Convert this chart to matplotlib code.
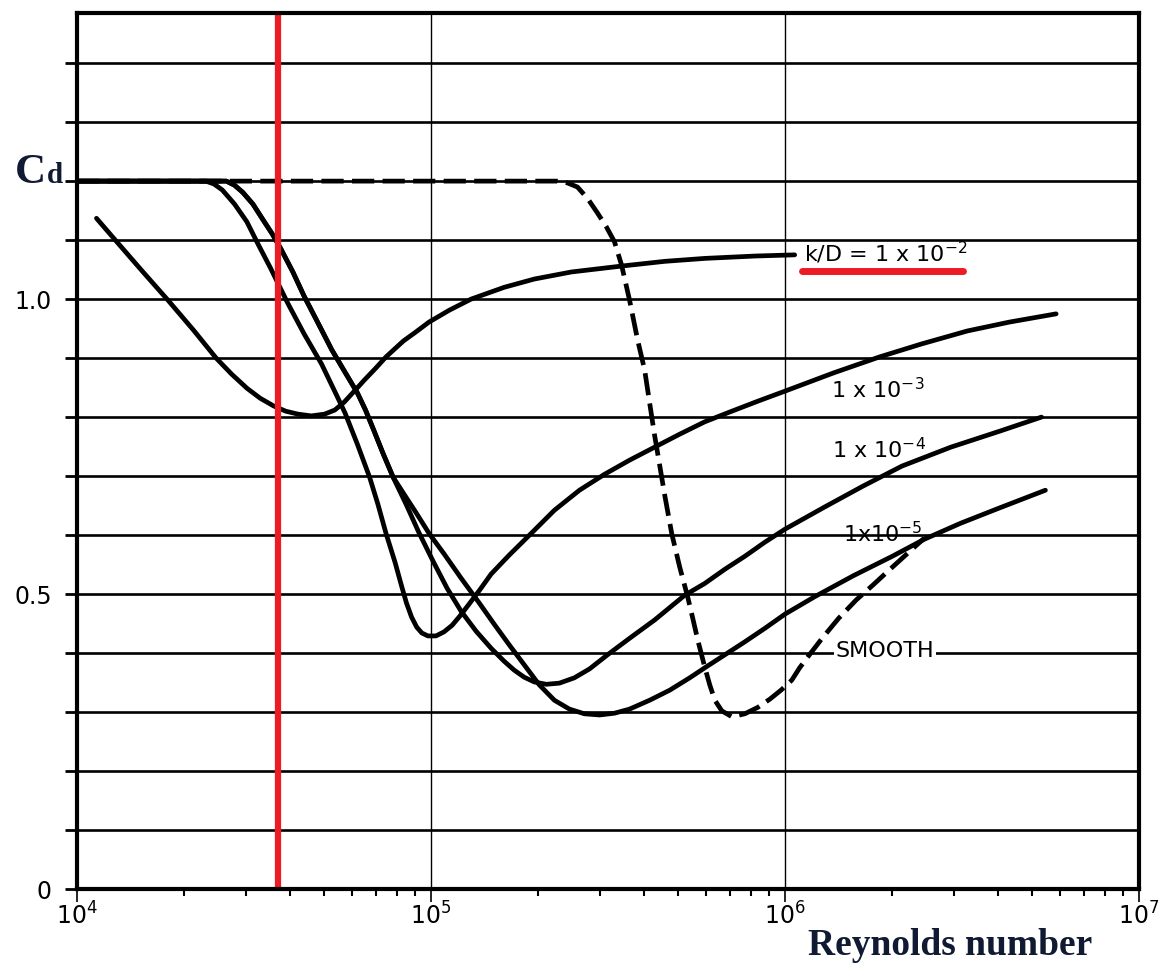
import matplotlib
matplotlib.use("Agg")
import matplotlib.pyplot as plt
from matplotlib.ticker import FixedLocator, FuncFormatter, LogLocator, NullFormatter

# ---------------- data ----------------
re_kd1e2 = [1.135e4, 1.296e4, 1.531e4, 1.808e4, 2.136e4, 2.472e4, 2.732e4, 3.019e4, 3.291e4,
            3.589e4, 3.887e4, 4.210e4, 4.589e4, 5.005e4, 5.350e4, 5.679e4, 6.030e4, 6.489e4,
            6.983e4, 7.462e4, 8.356e4, 9.05e4, 9.87e4, 1.125e5, 1.298e5, 1.610e5, 1.958e5,
            2.493e5, 3.453e5, 4.572e5, 5.935e5, 8.222e5, 1.065e6]
cd_kd1e2 = [1.137, 1.097, 1.047, 0.998, 0.947, 0.900, 0.873, 0.849, 0.832,
            0.819, 0.810, 0.805, 0.802, 0.805, 0.812, 0.825, 0.842, 0.863,
            0.883, 0.902, 0.929, 0.944, 0.961, 0.981, 1.000, 1.020, 1.034,
            1.046, 1.056, 1.064, 1.069, 1.073, 1.075]

re_kd1e3 = [1.0e4, 2.313e4, 2.439e4, 2.573e4, 2.787e4, 3.019e4, 3.248e4, 3.518e4, 3.939e4,
            4.381e4, 4.907e4, 5.422e4, 5.717e4, 6.195e4, 6.708e4, 7.074e4, 7.462e4, 7.922e4,
            8.246e4, 8.523e4, 8.812e4, 9.11e4, 9.42e4, 9.80e4, 1.033e5, 1.089e5, 1.147e5,
            1.208e5, 1.281e5, 1.377e5, 1.479e5, 1.663e5, 1.920e5, 2.231e5, 2.626e5, 3.091e5,
            3.639e5, 4.282e5, 5.04e5, 5.935e5, 7.078e5, 8.385e5, 1.0e6, 1.373e6, 1.850e6,
            2.431e6, 3.275e6, 4.30e6, 5.833e6]
cd_kd1e3 = [1.2, 1.2, 1.195, 1.185, 1.161, 1.131, 1.093, 1.053, 0.993,
            0.941, 0.890, 0.836, 0.807, 0.754, 0.698, 0.653, 0.603, 0.553,
            0.515, 0.485, 0.461, 0.444, 0.434, 0.429, 0.429, 0.436, 0.447,
            0.463, 0.483, 0.508, 0.534, 0.566, 0.603, 0.642, 0.676, 0.703,
            0.727, 0.749, 0.771, 0.792, 0.810, 0.827, 0.844, 0.875, 0.902,
            0.924, 0.946, 0.961, 0.975]

re_kd1e4 = [1.0e4, 2.642e4, 2.787e4, 2.939e4, 3.141e4, 3.357e4, 3.565e4, 3.759e4, 4.072e4,
            4.381e4, 4.810e4, 5.245e4, 5.717e4, 6.195e4, 6.531e4, 6.889e4, 7.313e4, 7.818e4,
            8.523e4, 9.23e4, 1.013e5, 1.110e5, 1.216e5, 1.341e5, 1.479e5, 1.610e5, 1.718e5,
            1.834e5, 1.958e5, 2.117e5, 2.305e5, 2.541e5, 2.803e5, 3.152e5, 3.639e5, 4.282e5,
            5.209e5, 5.935e5, 6.761e5, 7.70e5, 8.777e5, 1.0e6, 1.289e6, 1.661e6, 2.141e6,
            2.94e6, 4.037e6, 5.304e6]
cd_kd1e4 = [1.2, 1.2, 1.193, 1.181, 1.161, 1.134, 1.110, 1.086, 1.046,
            1.005, 0.958, 0.914, 0.876, 0.841, 0.812, 0.778, 0.739, 0.698,
            0.651, 0.605, 0.556, 0.510, 0.471, 0.437, 0.408, 0.386, 0.371,
            0.359, 0.351, 0.347, 0.349, 0.358, 0.373, 0.397, 0.425, 0.456,
            0.498, 0.518, 0.542, 0.564, 0.588, 0.610, 0.647, 0.683, 0.717,
            0.749, 0.776, 0.800]

re_kd1e5 = [1.0e4, 2.642e4, 2.787e4, 2.939e4, 3.141e4, 3.357e4, 3.565e4, 3.759e4, 4.072e4,
            4.381e4, 4.810e4, 5.245e4, 5.717e4, 6.195e4, 6.531e4, 6.889e4, 7.313e4, 7.818e4,
            8.356e4, 9.05e4, 9.87e4, 1.089e5, 1.216e5, 1.368e5, 1.508e5, 1.663e5, 1.834e5,
            2.023e5, 2.231e5, 2.46e5, 2.713e5, 2.992e5, 3.299e5, 3.639e5, 4.146e5, 4.723e5,
            5.381e5, 5.935e5, 6.761e5, 7.70e5, 8.777e5, 1.0e6, 1.209e6, 1.559e6, 2.009e6,
            2.477e6, 3.133e6, 4.037e6, 5.44e6]
cd_kd1e5 = [1.2, 1.2, 1.193, 1.181, 1.161, 1.134, 1.110, 1.086, 1.046,
            1.005, 0.958, 0.914, 0.876, 0.841, 0.812, 0.778, 0.739, 0.698,
            0.671, 0.639, 0.603, 0.568, 0.527, 0.485, 0.449, 0.414, 0.380,
            0.346, 0.320, 0.305, 0.297, 0.295, 0.298, 0.305, 0.320, 0.337,
            0.358, 0.375, 0.397, 0.419, 0.442, 0.466, 0.495, 0.531, 0.564,
            0.593, 0.620, 0.646, 0.676]

re_smooth = [1.0e4, 2.275e5, 2.428e5, 2.592e5, 2.766e5, 2.953e5, 3.132e5, 3.299e5, 3.453e5,
             3.639e5, 3.833e5, 4.013e5, 4.146e5, 4.282e5, 4.424e5, 4.572e5, 4.785e5, 5.04e5,
             5.311e5, 5.488e5, 5.67e5, 5.935e5, 6.13e5, 6.336e5, 6.63e5, 7.078e5, 7.70e5,
             8.385e5, 9.07e5, 9.74e5, 1.045e6, 1.100e6, 1.172e6, 1.273e6, 1.418e6, 1.589e6,
             1.770e6, 1.972e6, 2.21e6, 2.477e6]
cd_smooth = [1.2, 1.2, 1.197, 1.190, 1.171, 1.146, 1.122, 1.097, 1.058,
             0.998, 0.931, 0.880, 0.824, 0.769, 0.719, 0.668, 0.603, 0.546,
             0.495, 0.459, 0.422, 0.376, 0.346, 0.320, 0.302, 0.292, 0.297,
             0.308, 0.322, 0.337, 0.354, 0.375, 0.397, 0.425, 0.459, 0.490,
             0.515, 0.541, 0.568, 0.595]

re_marker = 3.7e4                      # red vertical line
y_ticks = [0.0, 0.1, 0.2, 0.3, 0.4, 0.5, 0.6, 0.7, 0.8, 0.9, 1.0, 1.1, 1.2, 1.3, 1.4]
y_labels = {0.0: "0", 0.5: "0.5", 1.0: "1.0"}
x_decades = [1e4, 1e5, 1e6, 1e7]

# ---------------- figure ----------------
plt.rcParams["font.family"] = ["DejaVu Sans"]
plt.rcParams["mathtext.fontset"] = "dejavusans"
plt.rcParams["lines.scale_dashes"] = False

W, H = 1172, 972
fig = plt.figure(figsize=(W / 100, H / 100), dpi=100)
ax = fig.add_axes([77 / W, 1 - 889 / H, (1139 - 77) / W, (889 - 13) / H])

ax.set_xscale("log")
ax.set_xlim(1e4, 1e7)
ax.set_ylim(0, 1.485)

# horizontal grid lines
for yv in y_ticks[1:]:
    ax.axhline(yv, color="black", lw=1.9, zorder=1)
# vertical grid lines at inner decades
for xv in x_decades[1:-1]:
    ax.axvline(xv, color="black", lw=1.0, zorder=1)

ink = "black"
lw = 3.4
kw = dict(color=ink, lw=lw, solid_joinstyle="round", solid_capstyle="round", zorder=3)
ax.plot(re_kd1e2, cd_kd1e2, **kw)
ax.plot(re_kd1e3, cd_kd1e3, **kw)
ax.plot(re_kd1e4, cd_kd1e4, **kw)
ax.plot(re_kd1e5, cd_kd1e5, **kw)
ax.plot(re_smooth, cd_smooth, color=ink, lw=lw, dashes=(16, 6), zorder=3)

# red marker line
ax.axvline(re_marker, color="#ed1c24", lw=4.5, zorder=5)

# curve labels
lab_fs = 16
ax.text(1.135e6, 1.063, r"k/D = 1 x 10$^{-2}$", fontsize=lab_fs, ha="left", va="baseline", zorder=4)
ax.text(1.35e6, 0.832, r"1 x 10$^{-3}$", fontsize=lab_fs, ha="left", va="baseline", zorder=4)
ax.text(1.36e6, 0.731, r"1 x 10$^{-4}$", fontsize=lab_fs, ha="left", va="baseline", zorder=4)
ax.text(1.46e6, 0.588, r"1x10$^{-5}$", fontsize=lab_fs, ha="left", va="baseline", zorder=4)
ax.text(1.39e6, 0.393, "SMOOTH", fontsize=lab_fs, ha="left", va="baseline", zorder=4,
        bbox=dict(facecolor="white", edgecolor="none", pad=1.0))
# red underline under k/D label
ax.plot([1.12e6, 3.19e6], [1.047, 1.047], color="#ed1c24", lw=5, solid_capstyle="round", zorder=5)

# spines
for s in ax.spines.values():
    s.set_linewidth(3.0)
    s.set_zorder(6)

# y ticks
ax.yaxis.set_major_locator(FixedLocator(y_ticks))
ax.yaxis.set_major_formatter(FuncFormatter(lambda v, p: y_labels.get(round(v, 1), "")))
ax.tick_params(axis="y", which="major", direction="out", length=9, width=2, labelsize=17, pad=9)

# x ticks
ax.xaxis.set_major_locator(FixedLocator(x_decades))
ax.xaxis.set_minor_locator(LogLocator(base=10, subs=range(2, 10)))
ax.xaxis.set_minor_formatter(NullFormatter())
ax.tick_params(axis="x", which="major", direction="out", length=9, width=1.2, labelsize=17, pad=1)
ax.tick_params(axis="x", which="minor", direction="out", length=5, width=1.5)

# axis titles
navy = "#111a33"
fig.text(15 / W, 1 - 183 / H, "C", fontsize=31, family="Liberation Serif", fontweight="bold",
         color=navy, ha="left", va="baseline")
fig.text(47 / W, 1 - 183 / H, "d", fontsize=21, family="Liberation Serif", fontweight="bold",
         color=navy, ha="left", va="baseline")
fig.text(808 / W, 1 - 955 / H, "Reynolds number", fontsize=27, family="Liberation Serif",
         fontweight="bold", color=navy, ha="left", va="baseline")

fig.savefig("out.png", dpi=100)
